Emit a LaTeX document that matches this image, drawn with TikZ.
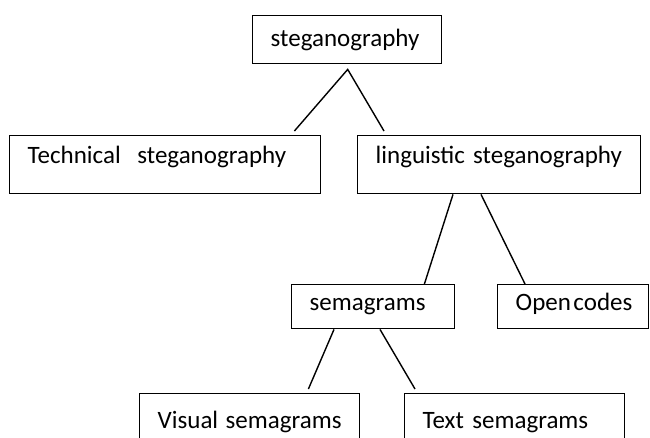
\documentclass[tikz,border=0pt]{standalone}
\usepackage{fontspec}
\setmainfont{Carlito}
\usetikzlibrary{calc}
\begin{document}
\begin{tikzpicture}[x=1pt,y=-1pt,
  box/.style={draw, line width=1.4pt, anchor=north west, align=left,
    inner xsep=18pt, inner ysep=0pt, font=\fontsize{25}{30}\selectfont},
  row2/.style={text height=28pt, text depth=30pt},
  row3/.style={text height=26pt, text depth=18pt},
  row4/.style={text height=35pt, text depth=40pt},
  link/.style={line width=1.4pt}]
\useasboundingbox (0,0) rectangle (650,437);
\clip (0,0) rectangle (650,437);
\node[box, text width=153pt, text height=31pt, text depth=17pt] (steg) at (252,15) {\mbox{steganography}};
\node[box, row2, text width=275pt] (tech) at (9,135) {\mbox{Technical~~steganography}};
\node[box, row2, text width=247pt] (ling) at (357,135) {\mbox{linguistic steganography}};
\node[box, row3, text width=127pt] (sema) at (291,284) {\mbox{semagrams}};
\node[box, row3, text width=115pt] (open) at (497,284) {\mbox{Open\hspace{0.1em}codes}};
\node[box, row4, text width=184pt] (visual) at (139,393) {\mbox{Visual\hspace{0.3em}semagrams}};
\node[box, row4, text width=184pt] (textsem) at (404,393) {\mbox{Text semagrams}};
\coordinate (apex) at ($(steg.south)+(0.5,5)$);
\coordinate (e1) at ($(tech.north east)+(-27,-4)$);
\coordinate (e2) at ($(ling.north west)+(27,-4)$);
\coordinate (s3) at ($(ling.south west)+(96,0)$);
\coordinate (e3) at ($(sema.north east)+(-31,0)$);
\coordinate (s4) at ($(ling.south west)+(124,0)$);
\coordinate (e4) at ($(open.north west)+(28,0)$);
\coordinate (s5) at ($(sema.south west)+(43,0)$);
\coordinate (e5) at ($(visual.north east)+(-52,-4)$);
\coordinate (s6) at ($(sema.south west)+(89,0)$);
\coordinate (e6) at ($(textsem.north west)+(11,-4)$);
\draw[link] (e1) -- (apex) -- (e2);
\draw[link] (s3) -- (e3);
\draw[link] (s4) -- (e4);
\draw[link] (s5) -- (e5);
\draw[link] (s6) -- (e6);
\end{tikzpicture}
\end{document}
